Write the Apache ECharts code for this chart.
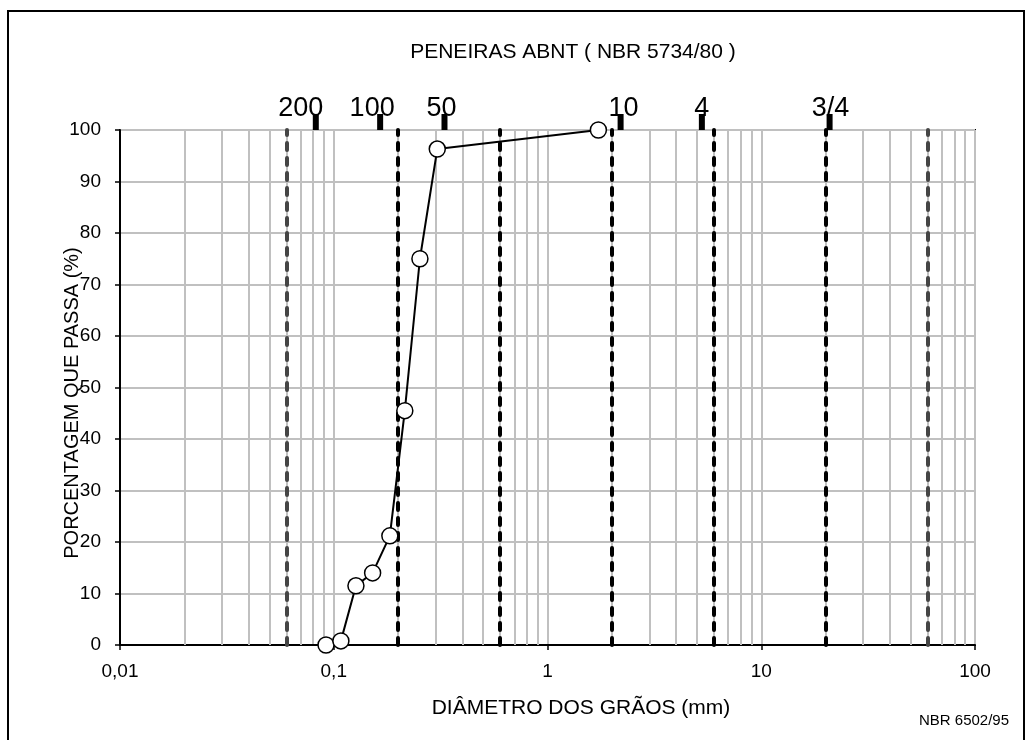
<!DOCTYPE html>
<html>
<head>
<meta charset="utf-8">
<title>Curva granulométrica</title>
<script src="https://cdn.jsdelivr.net/npm/echarts@6/dist/echarts.min.js"></script>
<style>
  html, body { margin: 0; padding: 0; background: #ffffff; }
  #chart { width: 1032px; height: 740px; }
</style>
</head>
<body>
<div id="chart"></div>
<script>
// Grain-size distribution: diameter (mm) vs. percentage passing
const grainDiameters = [0.075, 0.092, 0.108, 0.127, 0.152, 0.183, 0.215, 0.253, 0.305, 1.73];
const percentPassing = [0, 0, 0.8, 11.5, 14.0, 21.2, 45.5, 75.0, 96.3, 100];

// ABNT sieves (NBR 5734/80): number and opening in mm
const sieveNames = ['200', '100', '50', '10', '4', '3/4'];
const sieveOpenings = [0.075, 0.15, 0.3, 2.0, 4.8, 19.0];

// Fraction limits of NBR 6502/95 (mm)
const fractionLimits = [0.06, 0.2, 0.6, 2, 6, 20, 60];
const outerLimits = [0.06, 60];

// Decades of the logarithmic diameter axis
const xDecades = [0.01, 0.1, 1, 10];

const FONT = "'Liberation Sans', Arial, Helvetica, sans-serif";
const GRID_GRAY = '#c0c0c0';

// horizontal nudges of the sieve numbers above their tick marks
const sieveLabelShift = [-15, -8, -3, 3, 0, 1];

// minor vertical grid lines (2..9 within each decade)
const minorGridValues = [];
xDecades.forEach(d => { for (let k = 2; k <= 9; k++) minorGridValues.push(k * d); });

const chart = echarts.init(document.getElementById('chart'), null, { renderer: 'canvas' });

const formatDecimal = v => String(Number(Number(v).toPrecision(6))).replace('.', ',');

const option = {
  animation: false,
  backgroundColor: '#ffffff',
  textStyle: { fontFamily: FONT },
  grid: {
    left: 120, right: 57, top: 130, bottom: 95,
    show: true, borderColor: '#000', borderWidth: 2, backgroundColor: 'transparent'
  },
  xAxis: [
    {
      type: 'log', logBase: 10, min: 0.01, max: 100, position: 'bottom',
      axisLine: { show: true, lineStyle: { color: '#000', width: 2 } },
      axisTick: { show: true, length: 5, lineStyle: { color: '#000', width: 1.5 } },
      axisLabel: { color: '#000', fontSize: 19, fontFamily: FONT, margin: 17, formatter: formatDecimal },
      splitLine: { show: true, lineStyle: { color: GRID_GRAY, width: 2 } },
      minorTick: { show: false }
    },
    {
      // secondary (sieve) axis along the top edge
      type: 'log', logBase: 10, min: 0.0091, max: 91, position: 'top', show: false
    }
  ],
  yAxis: {
    type: 'value', min: 0, max: 100, interval: 10,
    axisLine: { show: true, lineStyle: { color: '#000', width: 2 } },
    axisTick: { show: true, length: 5, lineStyle: { color: '#000', width: 1.5 } },
    axisLabel: { color: '#000', fontSize: 19, fontFamily: FONT, margin: 19 },
    splitLine: { show: true, lineStyle: { color: GRID_GRAY, width: 2 } }
  },
  graphic: [
    { type: 'rect', silent: true, z: 100,
      shape: { x: 8, y: 11, width: 1016, height: 760 },
      style: { fill: null, stroke: '#000', lineWidth: 2 } },
    { type: 'text', silent: true, x: 573, y: 52,
      style: { text: 'PENEIRAS ABNT ( NBR 5734/80 )', font: '21px ' + FONT, fill: '#000',
               textAlign: 'center', textVerticalAlign: 'middle' } },
    { type: 'text', silent: true, x: 581, y: 708,
      style: { text: 'DIÂMETRO DOS GRÃOS (mm)', font: '21px ' + FONT, fill: '#000',
               textAlign: 'center', textVerticalAlign: 'middle' } },
    { type: 'text', silent: true, x: 72, y: 403, rotation: Math.PI / 2,
      style: { text: 'PORCENTAGEM QUE PASSA (%)', font: '20px ' + FONT, fill: '#000',
               textAlign: 'center', textVerticalAlign: 'middle' } },
    { type: 'text', silent: true, x: 964, y: 721,
      style: { text: 'NBR 6502/95', font: '15px ' + FONT, fill: '#000',
               textAlign: 'center', textVerticalAlign: 'middle' } }
  ],
  series: [
    {
      // light minor grid on the log axis
      name: 'grade', type: 'line', data: [], z: 1, silent: true,
      markLine: {
        silent: true, symbol: 'none', label: { show: false }, animation: false,
        lineStyle: { color: GRID_GRAY, width: 2, type: 'solid' },
        emphasis: { disabled: true },
        data: minorGridValues.map(v => ({ xAxis: v }))
      }
    },
    {
      // dashed limits between soil fractions
      name: 'limites', type: 'line', data: [], z: 3, silent: true,
      markLine: {
        silent: true, symbol: 'none', label: { show: false }, animation: false,
        emphasis: { disabled: true },
        data: fractionLimits.map(v => ({
          xAxis: v,
          lineStyle: {
            color: outerLimits.includes(v) ? '#454545' : '#000',
            width: 4, type: [7, 8], cap: 'round'
          }
        }))
      }
    },
    {
      name: 'curva', type: 'line', z: 5,
      data: grainDiameters.map((d, i) => ({
        value: [d, percentPassing[i]],
        // the line begins at the #200 opening without a marker
        symbol: i === 0 ? 'none' : 'circle'
      })),
      symbolSize: 16,
      itemStyle: { color: '#ffffff', borderColor: '#000', borderWidth: 1.5 },
      lineStyle: { color: '#000', width: 2 },
      emphasis: { disabled: true },
      clip: false
    },
    {
      name: 'peneiras', type: 'scatter', xAxisIndex: 1, yAxisIndex: 0, z: 6, clip: false,
      symbol: 'rect', symbolSize: [6, 16], symbolOffset: [0, -8],
      itemStyle: { color: '#000', opacity: 1 },
      label: {
        show: true, position: 'top', distance: 0, color: '#000', opacity: 1,
        fontSize: 27, fontFamily: FONT, formatter: p => p.name
      },
      emphasis: { disabled: true },
      data: sieveOpenings.map((o, i) => ({
        name: sieveNames[i],
        value: [o, 100],
        label: { offset: [sieveLabelShift[i], 8] }
      }))
    }
  ]
};

chart.setOption(option);
</script>
</body>
</html>
